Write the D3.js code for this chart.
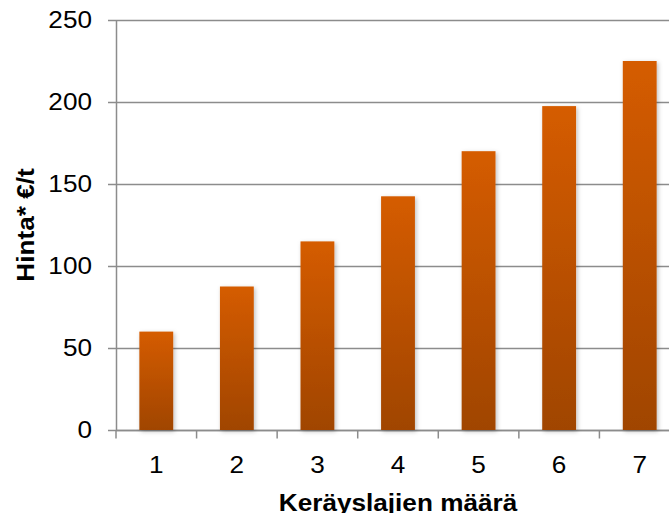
<!DOCTYPE html>
<html>
<head>
<meta charset="utf-8">
<script src="https://cdn.jsdelivr.net/npm/d3@7"></script>
<style>
  body { margin: 0; background: #fff; }
  text { font-family: "Liberation Sans", Arial, sans-serif; fill: #000; }
</style>
</head>
<body>
<script>
// data
var categories = ["1", "2", "3", "4", "5", "6", "7"];
var prices = [60, 87.5, 115, 142.5, 170, 197.5, 225];
var yTicks = [0, 50, 100, 150, 200, 250];

var width = 669, height = 513;
var margin = {left: 116, top: 20, right: -11, bottom: 83};

var topColor = '#d55c00';
var bottomColor = '#a04500';
var gridColor = '#8c8c8c';
var fontSize = 24;
var stretch = 1.09; // the reference text is a bit wider than plain Arial

var svg = d3.select("body").append("svg")
  .attr("width", width)
  .attr("height", height);

var x = d3.scaleBand()
  .domain(categories)
  .range([margin.left, width - margin.right])
  .paddingInner(0.58)
  .paddingOuter(0.29);

var y = d3.scaleLinear()
  .domain([0, 250])
  .range([height - margin.bottom, margin.top]);

var defs = svg.append("defs");
var grad = defs.append("linearGradient")
  .attr("id", "barGrad")
  .attr("x1", "0%").attr("y1", "0%")
  .attr("x2", "0%").attr("y2", "100%");
grad.append("stop").attr("offset", "0%").attr("stop-color", topColor);
grad.append("stop").attr("offset", "100%").attr("stop-color", bottomColor);

var shadow = defs.append("filter").attr("id", "shadow")
  .attr("x", "-30%").attr("y", "-10%").attr("width", "160%").attr("height", "120%");
shadow.append("feDropShadow")
  .attr("dx", 1.5).attr("dy", 1.5).attr("stdDeviation", 2)
  .attr("flood-color", "#000").attr("flood-opacity", 0.25);

// gridlines (with small tick stubs left of the axis)
svg.append("g")
  .selectAll("line")
  .data(yTicks)
  .enter().append("line")
  .attr("x1", margin.left - 8)
  .attr("x2", width)
  .attr("y1", function(d) { return Math.round(y(d)) + 0.5; })
  .attr("y2", function(d) { return Math.round(y(d)) + 0.5; })
  .style("stroke", gridColor)
  .style("stroke-width", 1.5);

// y axis line
svg.append("line")
  .attr("x1", margin.left + 0.5).attr("x2", margin.left + 0.5)
  .attr("y1", y(250)).attr("y2", y(0))
  .style("stroke", gridColor)
  .style("stroke-width", 1.5);

// y tick labels
svg.append("g")
  .selectAll("text")
  .data(yTicks)
  .enter().append("text")
  .attr("transform", function(d) {
    return "translate(" + (margin.left - 24) + "," + (y(d) + 8) + ") scale(" + stretch + ",1)";
  })
  .attr("text-anchor", "end")
  .style("font-size", fontSize + "px")
  .text(function(d) { return d; });

// x axis with ticks between categories
var xAxis = svg.append("g")
  .attr("transform", "translate(0," + (Math.round(y(0)) + 0.5) + ")");
xAxis.append("line")
  .attr("x1", margin.left).attr("x2", width)
  .style("stroke", gridColor).style("stroke-width", 1.5);
var step = x.step();
xAxis.selectAll(".tk")
  .data(d3.range(categories.length + 1))
  .enter().append("line")
  .attr("class", "tk")
  .attr("x1", function(i) { return margin.left + i * step; })
  .attr("x2", function(i) { return margin.left + i * step; })
  .attr("y1", 0).attr("y2", 8)
  .style("stroke", gridColor).style("stroke-width", 1.5);
xAxis.selectAll(".lbl")
  .data(categories)
  .enter().append("text")
  .attr("class", "lbl")
  .attr("transform", function(d) {
    return "translate(" + (x(d) + x.bandwidth() / 2) + ",42) scale(" + stretch + ",1)";
  })
  .attr("text-anchor", "middle")
  .style("font-size", fontSize + "px")
  .text(function(d) { return d; });

// bars
svg.append("g")
  .selectAll("rect")
  .data(prices)
  .enter().append("rect")
  .attr("x", function(d, i) { return x(categories[i]); })
  .attr("y", function(d) { return y(d); })
  .attr("width", x.bandwidth())
  .attr("height", function(d) { return y(0) - y(d); })
  .style("fill", "url(#barGrad)")
  .attr("filter", "url(#shadow)");

// axis titles
svg.append("text")
  .attr("transform", "translate(398,511) scale(" + stretch + ",1)")
  .attr("text-anchor", "middle")
  .style("font-size", fontSize + "px")
  .style("font-weight", "bold")
  .text("Keräyslajien määrä");

svg.append("text")
  .attr("transform", "translate(34,225) rotate(-90) scale(" + stretch + ",1)")
  .attr("text-anchor", "middle")
  .style("font-size", fontSize + "px")
  .style("font-weight", "bold")
  .text("Hinta* €/t");
</script>
</body>
</html>
